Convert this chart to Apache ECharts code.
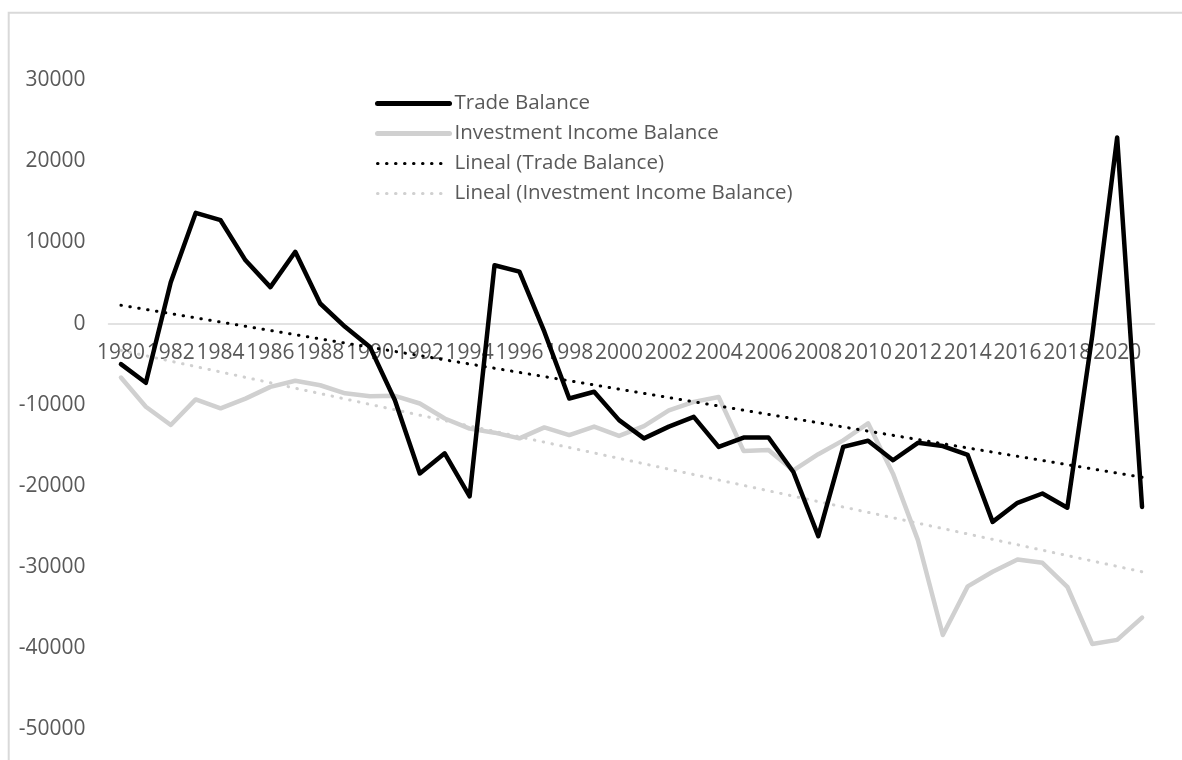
<!DOCTYPE html>
<html>
<head>
<meta charset="utf-8">
<script src="https://cdn.jsdelivr.net/npm/echarts@6/dist/echarts.min.js"></script>
<style>
  html, body { margin: 0; padding: 0; background: #fff; }
  #chart { width: 1182px; height: 760px; }
</style>
</head>
<body>
<div id="chart"></div>
<script>
// Years on the category axis
const years = ['1980','1981','1982','1983','1984','1985','1986','1987','1988','1989',
  '1990','1991','1992','1993','1994','1995','1996','1997','1998','1999',
  '2000','2001','2002','2003','2004','2005','2006','2007','2008','2009',
  '2010','2011','2012','2013','2014','2015','2016','2017','2018','2019',
  '2020','2021'];

// Trade balance, one value per year
const tradeBalance = [-5000, -7300, 5100, 13650, 12750, 7800, 4500, 8850, 2480, -400,
  -2900, -9450, -18480, -16000, -21300, 7200, 6400, -1000, -9240, -8400,
  -11900, -14150, -12700, -11500, -15200, -14050, -14050, -18300, -26200, -15200,
  -14450, -16850, -14700, -15100, -16200, -24450, -22100, -20950, -22700, -1500,
  22950, -22600];

// Investment income balance, one value per year
const investmentIncome = [-6650, -10250, -12500, -9350, -10450, -9250, -7800, -7050, -7600, -8600,
  -8950, -8900, -9850, -11700, -12950, -13450, -14150, -12800, -13750, -12700,
  -13850, -12650, -10700, -9650, -9050, -15700, -15600, -18100, -16100, -14400,
  -12300, -18500, -26700, -38400, -32400, -30600, -29100, -29500, -32450, -39500,
  -39000, -36250];

// Linear trend endpoints (first and last year)
const tradeTrendEnds = [2260, -18950];
const incomeTrendEnds = [-3300, -30600];

// Y axis range and step
const yMin = -50000, yMax = 30000, yStep = 10000;

function trendSeriesData(ends) {
  return years.map((_, i) => i === 0 ? ends[0] : (i === years.length - 1 ? ends[1] : null));
}

const textColor = '#595959';
const fontFamily = '"Open Sans", "Noto Sans", sans-serif';
const black = '#000000';
const lightGrey = '#d0d0d0';
const dotted = [0.5, 8.5];

// Plot area geometry
const gridTop = 80.3, gridHeight = 648.8;
// Shift the category axis up so it sits on the zero line
const zeroOffset = -gridHeight * (0 - yMin) / (yMax - yMin);

const chart = echarts.init(document.getElementById('chart'), null, { renderer: 'canvas' });

const hiddenSymbol = { color: 'rgba(0,0,0,0)', borderWidth: 0, opacity: 0 };

chart.setOption({
  animation: false,
  backgroundColor: '#ffffff',
  textStyle: { fontFamily: fontFamily },
  graphic: [{
    type: 'rect',
    shape: { x: 8.7, y: 12.7, width: 1200, height: 800 },
    style: { fill: 'none', stroke: '#d9d9d9', lineWidth: 2 },
    silent: true,
    z: -10
  }],
  grid: { left: 108.5, right: 27.5, top: gridTop, height: gridHeight },
  legend: {
    orient: 'vertical',
    left: 370,
    top: 88,
    itemWidth: 72,
    itemHeight: 14,
    itemGap: 9,
    itemTextGap: 6,
    textStyle: { color: textColor, fontSize: 20.5, fontFamily: fontFamily },
    data: [
      { name: 'Trade Balance', itemStyle: hiddenSymbol, lineStyle: { width: 5, color: black, cap: 'round' } },
      { name: 'Investment Income Balance', itemStyle: hiddenSymbol, lineStyle: { width: 5, color: lightGrey, cap: 'round' } },
      { name: 'Lineal (Trade Balance)', itemStyle: hiddenSymbol, lineStyle: { width: 3, color: black, type: dotted, cap: 'round' } },
      { name: 'Lineal (Investment Income Balance)', itemStyle: hiddenSymbol, lineStyle: { width: 3, color: lightGrey, type: dotted, cap: 'round' } }
    ]
  },
  xAxis: {
    type: 'category',
    data: years,
    boundaryGap: true,
    position: 'bottom',
    offset: zeroOffset,
    axisLine: { onZero: false, lineStyle: { color: '#d9d9d9', width: 1.5 } },
    axisTick: { show: false },
    axisLabel: {
      interval: 1,
      hideOverlap: false,
      color: textColor,
      fontSize: 21,
      margin: 19,
      fontFamily: fontFamily
    },
    splitLine: { show: false }
  },
  yAxis: {
    type: 'value',
    min: yMin,
    max: yMax,
    interval: yStep,
    axisLine: { show: false },
    axisTick: { show: false },
    splitLine: { show: false },
    axisLabel: {
      color: textColor,
      fontSize: 21,
      margin: 23,
      fontFamily: fontFamily,
      formatter: (v) => String(v)
    }
  },
  series: [
    {
      name: 'Trade Balance',
      type: 'line',
      data: tradeBalance,
      symbol: 'none',
      lineStyle: { color: black, width: 4.5, join: 'round', cap: 'round' },
      itemStyle: { color: black },
      z: 3
    },
    {
      name: 'Investment Income Balance',
      type: 'line',
      data: investmentIncome,
      symbol: 'none',
      lineStyle: { color: lightGrey, width: 4.5, join: 'round', cap: 'round' },
      itemStyle: { color: lightGrey },
      z: 2
    },
    {
      name: 'Lineal (Trade Balance)',
      type: 'line',
      data: trendSeriesData(tradeTrendEnds),
      connectNulls: true,
      symbol: 'none',
      lineStyle: { color: black, width: 3, type: dotted, cap: 'round' },
      itemStyle: { color: black },
      z: 4
    },
    {
      name: 'Lineal (Investment Income Balance)',
      type: 'line',
      data: trendSeriesData(incomeTrendEnds),
      connectNulls: true,
      symbol: 'none',
      lineStyle: { color: lightGrey, width: 3, type: dotted, cap: 'round' },
      itemStyle: { color: lightGrey },
      z: 1
    }
  ]
});
</script>
</body>
</html>
